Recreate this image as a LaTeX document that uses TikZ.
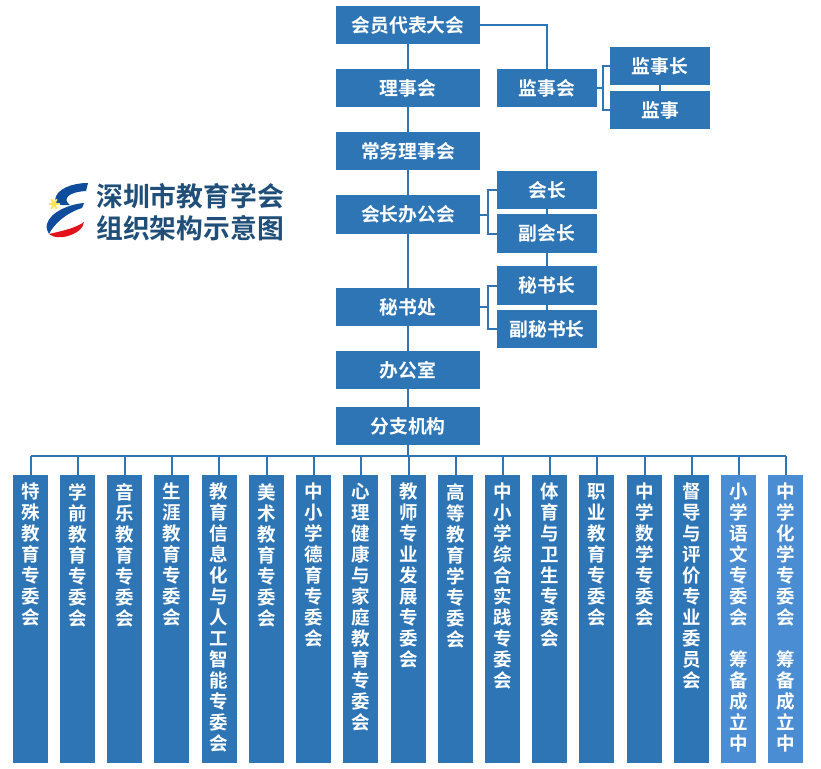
\documentclass[tikz,border=0pt]{standalone}
\usepackage{fontspec}
\setmainfont{Noto Sans CJK SC}[BoldFont={Noto Sans CJK SC Bold}]
\XeTeXlinebreaklocale "zh"
\XeTeXlinebreakskip=0pt plus 1pt
\definecolor{boxblue}{HTML}{2E75B6}
\definecolor{lightblue}{HTML}{4A8DD2}
\definecolor{titleblue}{HTML}{1F4E79}
\definecolor{logored}{HTML}{E3111B}
\definecolor{logoblue}{HTML}{0F4C9C}
\definecolor{logostar}{HTML}{FBE35A}
\tikzset{
  mainbox/.style={fill=boxblue, text=white, font=\fontsize{18.8}{20}\selectfont\bfseries, minimum width=144pt, minimum height=38pt, inner sep=0pt},
  subbox/.style={mainbox, minimum width=100pt},
  conn/.style={draw=boxblue, line width=2pt},
  colbox/.style={fill=#1, text=white, font=\fontsize{18.5}{21}\selectfont\bfseries, minimum width=35pt, anchor=north, inner sep=0pt},
  titletxt/.style={text=titleblue, font=\fontsize{26.8}{30}\selectfont\bfseries, anchor=west, inner sep=0pt}
}
\newcommand{\coltxt}[1]{\parbox[c][288pt][t]{20pt}{\centering\vspace{8pt}#1}}
\newcommand{\boxtxt}[1]{\raisebox{-1pt}{#1}}

\begin{document}
\begin{tikzpicture}[x=1pt,y=-1pt]
\useasboundingbox (0,0) rectangle (821,768);

\node[mainbox] (dahui) at (408,25) {\boxtxt{会员代表大会}};
\node[mainbox] (lishi) at (408,88) {\boxtxt{理事会}};
\node[mainbox] (changwu) at (408,151) {\boxtxt{常务理事会}};
\node[mainbox, minimum height=39pt] (bangong) at (408,214.5) {\boxtxt{会长办公会}};
\node[mainbox] (mishu) at (408,307) {\boxtxt{秘书处}};
\node[mainbox] (office) at (408,370) {\boxtxt{办公室}};
\node[mainbox] (fenzhi) at (408,426) {\boxtxt{分支机构}};

\node[subbox] (jianshi) at (547,88) {\boxtxt{监事会}};
\node[subbox] (jszhang) at (660,66) {\boxtxt{监事长}};
\node[subbox] (jsyuan) at (660,110) {\boxtxt{监事}};
\node[subbox] (huizhang) at (547,190) {\boxtxt{会长}};
\node[subbox, minimum height=39pt] (fuhui) at (547,233.5) {\boxtxt{副会长}};
\node[subbox, minimum height=39pt] (mszhang) at (547,285.5) {\boxtxt{秘书长}};
\node[subbox] (fums) at (547,329) {\boxtxt{副秘书长}};

% spine
\draw[conn] (dahui)--(lishi);
\draw[conn] (lishi)--(changwu);
\draw[conn] (changwu)--(bangong);
\draw[conn] (bangong)--(mishu);
\draw[conn] (mishu)--(office);
\draw[conn] (office)--(fenzhi);

% side branches
\draw[conn] (dahui.east)-|(jianshi.north);
\draw[conn] (jianshi.east)--++(6,0)|-(jszhang.west);
\draw[conn] (jianshi.east)--++(6,0)|-(jsyuan.west);
\draw[conn] (jszhang)--(jsyuan);
\draw[conn] (bangong.east)--++(8,0)|-(huizhang.west);
\draw[conn] (bangong.east)--++(8,0)|-(fuhui.west);
\draw[conn] (mishu.east)--++(8,0)|-(mszhang.west);
\draw[conn] (mishu.east)--++(8,0)|-(fums.west);
\draw[conn] (huizhang)--(fuhui);
\draw[conn] (fuhui)--(mszhang);
\draw[conn] (mszhang)--(fums);

% branch committees
\coordinate (busL) at (30.5,456);
\coordinate (busR) at (785.5,456);
\draw[conn] (busL)--(busR);
\draw[conn] (fenzhi.south)--(fenzhi.south |- busL);

\foreach \i/\x/\c/\t in {
  1/30.5/boxblue/特殊教育专委会,
  2/77.5/boxblue/学前教育专委会,
  3/124.5/boxblue/音乐教育专委会,
  4/171.5/boxblue/生涯教育专委会,
  5/219/boxblue/教育信息化与人工智能专委会,
  6/266.5/boxblue/美术教育专委会,
  7/313.5/boxblue/中小学德育专委会,
  8/360.5/boxblue/心理健康与家庭教育专委会,
  9/408.5/boxblue/教师专业发展专委会,
  10/455.5/boxblue/高等教育学专委会,
  11/502.5/boxblue/中小学综合实践专委会,
  12/549.5/boxblue/体育与卫生专委会,
  13/596.5/boxblue/职业教育专委会,
  14/644.5/boxblue/中学数学专委会,
  15/691.5/boxblue/督导与评价专业委员会,
  16/738.5/lightblue/{小学语文专委会\\[21pt]筹备成立中},
  17/785.5/lightblue/{中学化学专委会\\[21pt]筹备成立中}}
{
  \node[colbox=\c] (col\i) at (\x,475) {\coltxt{\t}};
  \draw[conn] (col\i.north)--(col\i.north |- busL);
}

% title and logo
\node[titletxt] (title1) at (96,196) {深圳市教育学会};
\node[titletxt] (title2) at (96,228) {组织架构示意图};

\fill[logoblue] (88,183) .. controls (72,183) and (56,189) .. (55,200) .. controls (56,204) and (60,206) .. (70,205)
  .. controls (62,199) and (68,192) .. (86,191) -- cycle;
\fill[logoblue] (84,203) .. controls (70,204) and (50,212) .. (47,224) .. controls (46,228) and (47,231) .. (49,234)
  .. controls (54,224) and (66,213) .. (82,208) -- cycle;
\fill[logored] (84,222) .. controls (76,228) and (62,231) .. (49,234) .. controls (53,238) and (62,238) .. (68,236)
  .. controls (77,233) and (83,229) .. (84,222) -- cycle;
\foreach \a in {0,60,120} {
  \draw[logostar, line width=2pt] (54,204)++(\a:5.5)--++(\a+180:11);
}
\end{tikzpicture}
\end{document}
